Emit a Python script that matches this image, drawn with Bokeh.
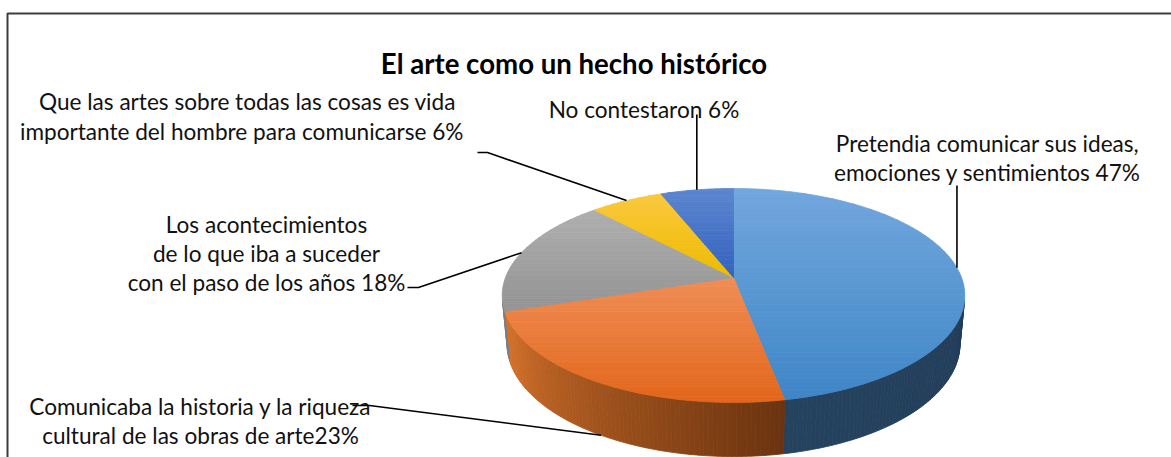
import numpy as np
from bokeh.plotting import figure
from bokeh.models import Range1d, ColumnDataSource
from bokeh.core.properties import value
from bokeh.embed import file_html
from bokeh.resources import INLINE

# ---------------- data ----------------
title = "El arte como un hecho histórico"
categories = [
    "Pretendia comunicar sus ideas, emociones y sentimientos",
    "Comunicaba la historia y la riqueza cultural de las obras de arte",
    "Los acontecimientos de lo que iba a suceder con el paso de los años",
    "Que las artes sobre todas las cosas es vida importante del  hombre para comunicarse",
    "No contestaron",
]
values = [47, 23, 18, 6, 6]
label_lines = [
    ["Pretendia comunicar sus ideas,", "emociones y sentimientos {}%"],
    ["Comunicaba la historia y la riqueza", "cultural de las obras de arte{}%"],
    ["Los acontecimientos", "de lo que iba a suceder", "con el paso de los años {}%"],
    ["Que las artes sobre todas las cosas es vida", "importante del  hombre para comunicarse  {}%"],
    ["No contestaron {}%"],
]

# ---------------- styles / layout ----------------
top_colors = [("#72A7DD", "#3F86C7"), ("#F08E56", "#E2661B"), ("#AFAFAF", "#949494"),
              ("#FAC83C", "#EDBB00"), ("#5D86CF", "#3362BF")]
side_colors = [("#1B344F", "#25425F"), ("#6A330F", "#D8732B"), ("#7E7E7E", "#909090"),
               ("#B08800", "#C89C00"), ("#24488F", "#2E55A0")]
label_x = [987, 200, 266, 247, 643.5]
label_y = [[143, 172], [406, 435], [224, 253, 282], [101, 131], [109]]
leader_start = [None, [(352, 405), (369, 405)], [(407, 287), (418, 287)],
                [(477, 152), (487, 152)], None]
leader_vtop = [185, None, None, None, 114]

W, H = 1171, 457
p = figure(width=W, height=H, x_range=Range1d(0, W), y_range=Range1d(H, 0),
           output_backend="svg", toolbar_location=None, min_border=0)
p.axis.visible = False
p.grid.visible = False
p.outline_line_color = None
p.background_fill_color = "white"
p.border_fill_color = "white"

# ---------------- 3D projection of pie ----------------
cx, cy, S = 733.0, 277.0, 228.0
sa = 0.456
ca = np.sqrt(1 - sa * sa)
D = 5.3
TH = 0.24


def proj(theta_deg, Y):
    th = np.radians(theta_deg)
    X = np.sin(th)
    Z = -np.cos(th)
    u = Y * ca - Z * sa
    d = Y * sa + Z * ca
    f = D / (D - d)
    return cx + S * X * f, cy - S * u * f


def hex2rgb(h):
    h = h.lstrip("#")
    return np.array([int(h[i:i + 2], 16) for i in (0, 2, 4)], dtype=float)


def mix(c1, c2, t):
    a, b = hex2rgb(c1), hex2rgb(c2)
    c = a + (b - a) * min(max(t, 0), 1)
    return "#%02x%02x%02x" % tuple(int(round(v)) for v in c)


def clip(poly, yv, keep_ge):
    out = []
    n = len(poly)
    for i in range(n):
        P, Q = poly[i], poly[(i + 1) % n]
        pin = P[1] >= yv if keep_ge else P[1] <= yv
        qin = Q[1] >= yv if keep_ge else Q[1] <= yv
        if pin:
            out.append(P)
        if pin != qin:
            t = (yv - P[1]) / (Q[1] - P[1])
            out.append((P[0] + t * (Q[0] - P[0]), yv))
    return out


total = float(sum(values))
bounds = np.concatenate([[0], np.cumsum(values)]) / total * 360.0

# visible side range
cmin = -1.0 / (D * ca)
vis_a = np.degrees(np.arccos(cmin))
vis_b = 360 - vis_a

side_xs, side_ys, side_c = [], [], []
for i in range(len(values)):
    a, b = max(bounds[i], vis_a), min(bounds[i + 1], vis_b)
    if b <= a:
        continue
    n = max(2, int((b - a) / 1.0))
    ths = np.linspace(a, b, n + 1)
    for j in range(n):
        t0, t1 = ths[j], ths[j + 1]
        x0, y0 = proj(t0, 0)
        x1, y1 = proj(t1, 0)
        x2, y2 = proj(t1, -TH)
        x3, y3 = proj(t0, -TH)
        side_xs.append([x0, x1, x2, x3])
        side_ys.append([y0, y1, y2, y3])
        tt = ((t0 + t1) / 2 - bounds[i]) / (bounds[i + 1] - bounds[i])
        side_c.append(mix(side_colors[i][0], side_colors[i][1], tt))

p.patches("xs", "ys", source=ColumnDataSource(dict(xs=side_xs, ys=side_ys, c=side_c)),
          fill_color="c", line_color="c", line_width=0.8)

top_xs, top_ys, top_c = [], [], []
for i in range(len(values)):
    ths = np.linspace(bounds[i], bounds[i + 1], max(3, int(bounds[i + 1] - bounds[i]) + 1))
    pts = [proj(t, 0) for t in ths]
    poly = [(cx, cy)] + [(float(x), float(y)) for x, y in pts]
    ymin = min(q[1] for q in poly)
    ymax = max(q[1] for q in poly)
    nb = 40
    edges = np.linspace(ymin, ymax, nb + 1)
    for k in range(nb):
        band = clip(clip(poly, edges[k], True), edges[k + 1], False)
        if len(band) < 3:
            continue
        top_xs.append([q[0] for q in band])
        top_ys.append([q[1] for q in band])
        top_c.append(mix(top_colors[i][0], top_colors[i][1], (k + 0.5) / nb))

p.patches("xs", "ys", source=ColumnDataSource(dict(xs=top_xs, ys=top_ys, c=top_c)),
          fill_color="c", line_color="c", line_width=0.8)

# ---------------- leader lines ----------------
for i in range(len(values)):
    mid = (bounds[i] + bounds[i + 1]) / 2
    near = np.cos(np.radians(mid)) < 0
    ex, ey = proj(mid, -TH if near else 0)
    if leader_start[i] is not None:
        xs = [q[0] for q in leader_start[i]] + [ex]
        ys = [q[1] for q in leader_start[i]] + [ey]
    else:
        xs = [ex, ex]
        ys = [leader_vtop[i], ey]
    p.line(xs, ys, line_color="black", line_width=1.6)

# ---------------- texts ----------------
tx, ty, tt = [], [], []
for i in range(len(values)):
    lines = label_lines[i]
    for k, ln in enumerate(lines):
        tx.append(label_x[i])
        ty.append(label_y[i][k])
        tt.append(ln.format(values[i]) if "{}" in ln else ln)
p.text(tx, ty, text=tt, text_font=value("Lato"), text_font_size="22.6px",
       text_align="center", text_baseline="alphabetic", text_color="#111111")

p.text([573.5], [63], text=[title], text_font=value("Lato"), text_font_size="27.6px",
       text_font_style="bold", text_align="center", text_baseline="alphabetic",
       text_color="black")

# ---------------- chart border ----------------
p.line([7, 7, W], [H, 13, 13], line_color="#3C3C3C", line_width=2)

open("out.html", "w").write(file_html(p, INLINE))
